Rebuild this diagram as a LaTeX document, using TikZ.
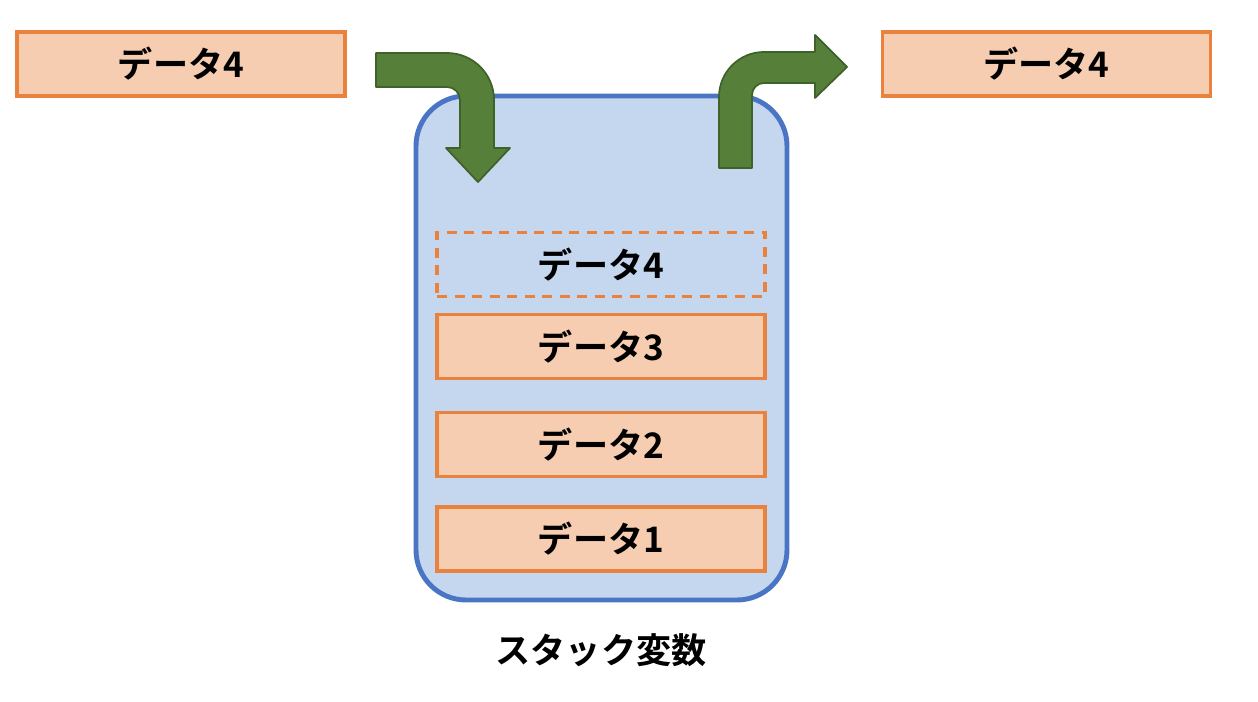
\documentclass[tikz,border=0pt]{standalone}
\usepackage{fontspec}
\setmainfont{Noto Sans CJK JP}[BoldFont={Noto Sans CJK JP Bold}]
\usepackage{tikz}
\usetikzlibrary{positioning}
\usepackage{xcolor}
\definecolor{peach}{HTML}{F6CDB0}
\definecolor{rim}{HTML}{E8823C}
\definecolor{sky}{HTML}{C5D7EE}
\definecolor{navy}{HTML}{4A74C4}
\definecolor{leaf}{HTML}{56803A}
\definecolor{leafdark}{HTML}{3F6228}
\tikzset{
  databox/.style={draw=rim,fill=peach,line width=.9pt,minimum width=3.28cm,minimum height=.64cm,inner sep=0pt,font=\fontsize{10}{12}\selectfont\bfseries},
  ghostbox/.style={databox,fill=none,dash pattern=on .1cm off .075cm},
  stackbox/.style={draw=navy,fill=sky,line width=1.4pt,rounded corners=5mm,minimum width=3.71cm,minimum height=5.04cm,inner sep=0pt},
  blockarrow/.style={draw=leafdark,fill=leaf,line width=.5pt,line join=round},
}
\begin{document}
\begin{tikzpicture}[x=1cm,y=1cm]
  \path[use as bounding box] (0,0) rectangle (12.58,-7.02);
  \node[stackbox] (stack) at (6.015,-3.48) {};
  \node[databox] (inbox) at (1.81,-0.64) {データ4};
  \node[databox] (outbox) at (10.465,-0.64) {データ4};
  \node[ghostbox] (d4) at (6.01,-2.645) {データ4};
  \node[databox] (d3) at (6.01,-3.465) {データ3};
  \node[databox] (d2) at (6.01,-4.445) {データ2};
  \node[databox] (d1) at (6.01,-5.39) {データ1};
  \node[font=\fontsize{10}{12}\selectfont\bfseries] (caption) at (6.01,-6.50) {スタック変数};
  % push / pop arrows
  \draw[blockarrow] (3.76,-0.53) -- (4.47,-0.53) arc (90:0:0.47) -- (4.94,-1.48) -- (5.10,-1.48) -- (4.78,-1.82) -- (4.46,-1.48) -- (4.60,-1.48) -- (4.60,-1.00) arc (0:90:0.13) -- (3.76,-0.87) -- cycle;
  \draw[blockarrow] (7.19,-1.68) -- (7.19,-0.97) arc (180:90:0.45) -- (8.15,-0.52) -- (8.15,-0.35) -- (8.47,-0.67) -- (8.15,-0.98) -- (8.15,-0.83) -- (7.64,-0.83) arc (90:180:0.12) -- (7.52,-1.68) -- cycle;
\end{tikzpicture}
\end{document}
